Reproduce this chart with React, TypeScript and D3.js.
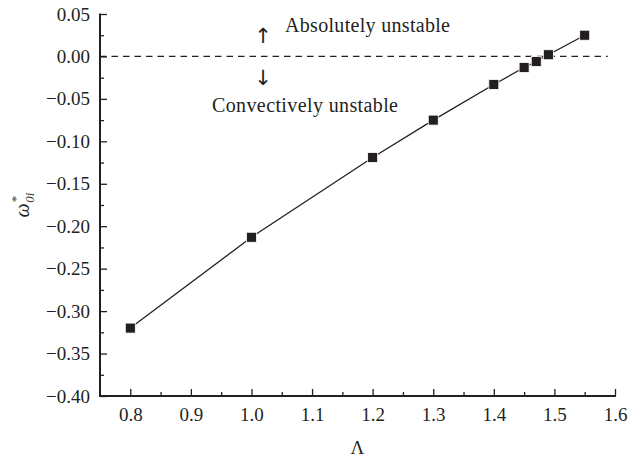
import * as React from "react";
import * as d3 from "d3";

// Λ values and ω*_0i
const lambdas = [0.8, 1.0, 1.2, 1.3, 1.4, 1.45, 1.47, 1.49, 1.55];
const omegas = [-0.32, -0.213, -0.119, -0.075, -0.033, -0.013, -0.006, 0.002, 0.025];
const xTicks = [0.8, 0.9, 1.0, 1.1, 1.2, 1.3, 1.4, 1.5, 1.6];
const yTicks = [0.05, 0.0, -0.05, -0.1, -0.15, -0.2, -0.25, -0.3, -0.35, -0.4];
const xMinorTicks = [0.85, 0.95, 1.05, 1.15, 1.25, 1.35, 1.45, 1.55];
const yMinorTicks = [0.025, -0.025, -0.075, -0.125, -0.175, -0.225, -0.275, -0.325, -0.375];

const width = 628;
const height = 460;
const margin = { top: 14, right: 13, bottom: 64, left: 100 };
const font = "'Liberation Serif', 'DejaVu Serif', serif";
const ink = "#231f20";

export default function App() {
  const ref = React.useRef<SVGSVGElement>(null);

  React.useEffect(() => {
    const svg = d3.select(ref.current);
    svg.selectAll("*").remove();

    const x = d3.scaleLinear().domain([0.75, 1.6]).range([margin.left, width - margin.right]);
    const y = d3.scaleLinear().domain([-0.4, 0.05]).range([height - margin.bottom, margin.top]);

    const fmtY = (d: number) => (d < 0 ? "\u2212" : "") + Math.abs(d).toFixed(2);

    const styleAxis = (g: any) => {
      g.selectAll("line").attr("stroke", ink).attr("stroke-width", 1.3);
      g.selectAll("text")
        .attr("font-family", font).attr("font-size", 19).attr("fill", ink);
    };

    // axis spines, thin filled rects
    const x0 = x(0.75), x1 = x(1.6), yTop = y(0.05), yBot = y(-0.4);
    svg.append("rect")
      .attr("x", x0 - 1).attr("y", yTop - 0.5)
      .attr("width", 2).attr("height", yBot - yTop + 1.5)
      .attr("fill", ink);
    svg.append("rect")
      .attr("x", x0 - 1).attr("y", yBot - 1)
      .attr("width", x1 - x0 + 2).attr("height", 2)
      .attr("fill", ink);

    // y axis, ticks pointing inward
    svg.append("g")
      .attr("transform", `translate(${margin.left},0)`)
      .call(d3.axisLeft(y).tickValues(yMinorTicks).tickSize(-4).tickSizeOuter(0).tickFormat(() => ""))
      .call(g => g.select(".domain").remove())
      .call(styleAxis);
    svg.append("g")
      .attr("transform", `translate(${margin.left},0)`)
      .call(d3.axisLeft(y).tickValues(yTicks).tickSize(-7).tickSizeOuter(0).tickPadding(10).tickFormat(d => fmtY(+d)))
      .call(g => g.select(".domain").remove())
      .call(styleAxis);

    // x axis
    svg.append("g")
      .attr("transform", `translate(0,${yBot})`)
      .call(d3.axisBottom(x).tickValues(xMinorTicks).tickSize(-4).tickSizeOuter(0).tickFormat(() => ""))
      .call(g => g.select(".domain").remove())
      .call(styleAxis);
    svg.append("g")
      .attr("transform", `translate(0,${yBot})`)
      .call(d3.axisBottom(x).tickValues(xTicks).tickSize(-7).tickSizeOuter(0).tickPadding(12).tickFormat(d => (+d).toFixed(1)))
      .call(g => g.select(".domain").remove())
      .call(styleAxis);

    // zero line
    svg.append("line")
      .attr("x1", margin.left).attr("x2", x(1.588))
      .attr("y1", y(0)).attr("y2", y(0))
      .attr("stroke", ink).attr("stroke-width", 1.2)
      .attr("stroke-dasharray", "6.5,5");

    // annotations
    const ann = svg.append("g").attr("font-family", font).attr("fill", ink).attr("font-size", 20);
    ann.append("text").attr("x", 263).attr("y", 43).attr("text-anchor", "middle")
      .attr("font-family", "'DejaVu Sans', sans-serif").attr("font-size", 21).text("\u2191");
    ann.append("text").attr("x", 285).attr("y", 32).attr("textLength", 165).text("Absolutely unstable");
    ann.append("text").attr("x", 263).attr("y", 85).attr("text-anchor", "middle")
      .attr("font-family", "'DejaVu Sans', sans-serif").attr("font-size", 21).text("\u2193");
    ann.append("text").attr("x", 212).attr("y", 112).attr("textLength", 186).text("Convectively unstable");

    // series
    const pts = lambdas.map((l, i) => [l, omegas[i]] as [number, number]);
    const line = d3.line<[number, number]>().x(d => x(d[0])).y(d => y(d[1]));
    svg.append("path").datum(pts)
      .attr("d", line).attr("fill", "none")
      .attr("stroke", ink).attr("stroke-width", 1.3);
    svg.append("g").selectAll("rect").data(pts).join("rect")
      .attr("x", d => x(d[0]) - 5).attr("y", d => y(d[1]) - 5)
      .attr("width", 10).attr("height", 10)
      .attr("fill", ink).attr("stroke", "#fff").attr("stroke-width", 0.8);

    // axis titles
    svg.append("text")
      .attr("x", x(1.175)).attr("y", 454)
      .attr("text-anchor", "middle")
      .attr("font-family", font).attr("font-size", 19).attr("fill", ink)
      .text("\u039b");

    const yl = svg.append("text")
      .attr("transform", `translate(29,${(y(0.05) + y(-0.4)) / 2}) rotate(-90)`)
      .attr("text-anchor", "middle")
      .attr("font-family", font).attr("font-size", 20).attr("fill", ink)
      .attr("font-style", "italic");
    yl.append("tspan").text("\u03c9");
    yl.append("tspan").attr("font-size", 13).attr("dy", -9).attr("dx", 1).attr("font-style", "normal").text("*");
    yl.append("tspan").attr("font-size", 13).attr("dy", 14).attr("dx", -7).text("0i");
  }, []);

  return (
    <svg ref={ref} width={width} height={height}
      style={{ position: "absolute", left: 0, top: 0, background: "#fff" }} />
  );
}
